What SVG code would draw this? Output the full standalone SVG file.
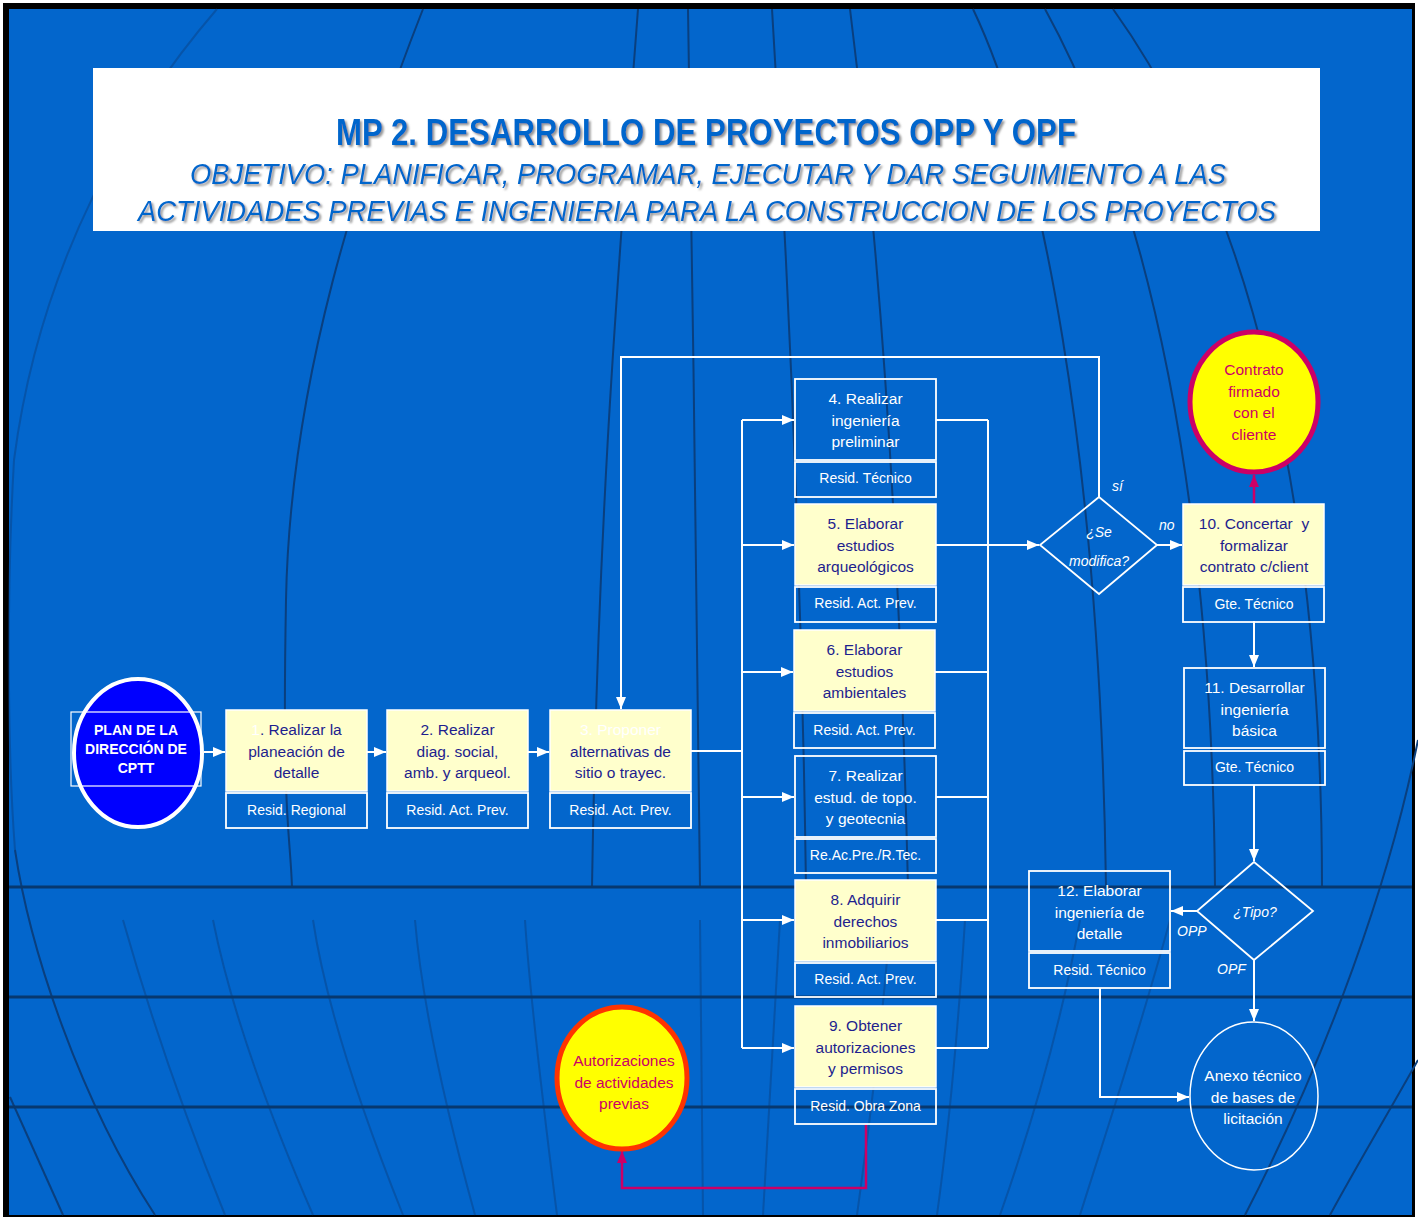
<svg xmlns="http://www.w3.org/2000/svg" width="1418" height="1219" viewBox="0 0 1418 1219">
  <defs>
    <marker id="arr" markerUnits="userSpaceOnUse" markerWidth="12" markerHeight="10" refX="12" refY="5" orient="auto">
      <path d="M0,0 L12,5 L0,10 z" fill="#ffffff"/>
    </marker>
    <marker id="arrM" markerUnits="userSpaceOnUse" markerWidth="12" markerHeight="10" refX="12" refY="5" orient="auto">
      <path d="M0,0 L12,5 L0,10 z" fill="#cc0066"/>
    </marker>
    <filter id="shadow" x="-5%" y="-20%" width="110%" height="140%">
      <feDropShadow dx="2" dy="2" stdDeviation="1" flood-color="#7a7a7a" flood-opacity="0.8"/>
    </filter>
    <style>
      .grid { fill: none; stroke: #0a3f7e; stroke-width: 2; }
      .faint { opacity: 0.45; }
      .lat { stroke: #07386f; stroke-width: 3; }
      .conn { fill: none; stroke: #ffffff; stroke-width: 2; }
      .connM { fill: none; stroke: #cc0066; stroke-width: 2.5; }
      .yel { fill: #ffffcc; stroke: #ffffff; stroke-width: 1.5; }
      .blu { fill: none; stroke: #ffffff; stroke-width: 1.8; }
      .t { font-family: "Liberation Sans", Arial, sans-serif; font-size: 15.5px; text-anchor: middle; }
      .dk { fill: #1e1e8e; }
      .wt { fill: #ffffff; }
      .role { font-family: "Liberation Sans", Arial, sans-serif; font-size: 14px; text-anchor: middle; fill: #ffffff; }
      .lbl { font-family: "Liberation Sans", Arial, sans-serif; font-size: 14px; font-style: italic; fill: #ffffff; }
      .mg { font-family: "Liberation Sans", Arial, sans-serif; font-size: 15.5px; text-anchor: middle; fill: #cc0066; }
    </style>
  </defs>

  <!-- frame and background -->
  <rect x="0" y="0" width="1418" height="1219" fill="#ffffff"/>
  <rect x="3" y="3" width="1412" height="1214" fill="#000000"/>
  <rect x="9" y="9" width="1403" height="1206" fill="#0366cc"/>

  <!-- globe grid -->
  <g id="grid">
    <path class="grid faint" d="M217,9 C130,110 40,260 14,460 C6,600 8,760 15,850"/>
    <path class="grid" d="M15,850 C30,950 80,1100 155,1215"/>
    <path class="grid" d="M423,9 C360,170 290,380 286,600 S290,830 292,887"/>
    <path class="grid" d="M638,9 C620,250 598,500 592,887"/>
    <path class="grid" d="M688,9 C692,300 698,600 700,887"/>
    <path class="grid" d="M772,9 C790,300 802,600 806,887"/>
    <path class="grid" d="M850,9 C880,250 900,550 908,887"/>
    <path class="grid" d="M973,9 C1040,150 1100,450 1106,887"/>
    <path class="grid" d="M1045,9 C1150,200 1212,500 1215,887"/>
    <path class="grid" d="M1113,9 C1250,200 1322,500 1322,887"/>
    <path class="grid" d="M1418,740 C1390,880 1330,1050 1245,1215"/>
    <path class="grid" d="M1418,1060 C1390,1110 1360,1160 1330,1215"/>
    <path class="grid" d="M10,1097 L63,1215"/>
    <path class="grid faint" d="M123,920 C140,980 170,1080 225,1215"/>
    <path class="grid faint" d="M213,920 C225,980 250,1070 313,1215"/>
    <path class="grid faint" d="M313,920 C322,980 345,1070 403,1215"/>
    <path class="grid faint" d="M415,920 C420,980 435,1070 475,1215"/>
    <path class="grid faint" d="M525,920 C530,1000 545,1120 557,1215"/>
    <path class="grid faint" d="M700,920 L703,1215"/>
    <path class="grid faint" d="M780,920 L763,1215"/>
    <path class="grid faint" d="M890,920 C885,1000 870,1120 857,1215"/>
    <path class="grid faint" d="M965,920 C960,1000 950,1120 937,1215"/>
    <path class="grid faint" d="M1080,920 C1060,1030 1030,1130 1000,1215"/>
    <path class="grid faint" d="M1170,920 C1140,1030 1110,1120 1080,1215"/>
    <line class="grid lat" x1="9" y1="887" x2="1412" y2="887"/>
    <line class="grid lat" x1="9" y1="997" x2="1412" y2="997"/>
    <line class="grid lat" x1="9" y1="1107" x2="1412" y2="1107"/>
  </g>

  <!-- title -->
  <g id="title">
    <rect x="93" y="68" width="1227" height="163" fill="#ffffff"/>
    <g filter="url(#shadow)" fill="#0066cc" font-family="Liberation Sans, Arial, sans-serif">
      <text x="336" y="145" font-size="36" font-weight="bold" textLength="740" lengthAdjust="spacingAndGlyphs">MP 2. DESARROLLO DE PROYECTOS OPP Y OPF</text>
      <text x="190" y="184" font-size="29" font-style="italic" textLength="1036" lengthAdjust="spacingAndGlyphs">OBJETIVO: PLANIFICAR, PROGRAMAR, EJECUTAR Y DAR SEGUIMIENTO A LAS</text>
      <text x="138" y="221" font-size="29" font-style="italic" textLength="1138" lengthAdjust="spacingAndGlyphs">ACTIVIDADES PREVIAS E INGENIERIA PARA LA CONSTRUCCION DE LOS PROYECTOS</text>
    </g>
  </g>

  <!-- connectors -->
  <g id="connectors">
    <path class="conn" d="M204,752 H225" marker-end="url(#arr)"/>
    <path class="conn" d="M367,752 H386" marker-end="url(#arr)"/>
    <path class="conn" d="M528,752 H549" marker-end="url(#arr)"/>
    <path class="conn" d="M691,751 H742"/>
    <path class="conn" d="M742,420 V1048"/>
    <path class="conn" d="M742,420 H794" marker-end="url(#arr)"/>
    <path class="conn" d="M742,545 H794" marker-end="url(#arr)"/>
    <path class="conn" d="M742,672 H793" marker-end="url(#arr)"/>
    <path class="conn" d="M742,797 H794" marker-end="url(#arr)"/>
    <path class="conn" d="M742,920 H794" marker-end="url(#arr)"/>
    <path class="conn" d="M742,1048 H794" marker-end="url(#arr)"/>
    <path class="conn" d="M936,420 H988 M936,545 H988 M935,672 H988 M936,797 H988 M936,920 H988 M936,1048 H988"/>
    <path class="conn" d="M988,420 V1048"/>
    <path class="conn" d="M988,545 H1039" marker-end="url(#arr)"/>
    <path class="conn" d="M1099,497 V357 H621 V709" marker-end="url(#arr)"/>
    <path class="conn" d="M1157,545 H1182" marker-end="url(#arr)"/>
    <path class="connM" d="M1254,504 V475" marker-end="url(#arrM)"/>
    <path class="conn" d="M1254,621 V667" marker-end="url(#arr)"/>
    <path class="conn" d="M1254,785 V861" marker-end="url(#arr)"/>
    <path class="conn" d="M1197,911 H1171" marker-end="url(#arr)"/>
    <path class="conn" d="M1254,960 V1021" marker-end="url(#arr)"/>
    <path class="conn" d="M1100,988 V1097 H1189" marker-end="url(#arr)"/>
    <path class="connM" d="M866,1124 V1188 H622 V1151" marker-end="url(#arrM)"/>
    <text class="lbl" x="1112" y="491" font-size="12">sí</text>
    <text class="lbl" x="1159" y="530" font-size="12">no</text>
    <text class="lbl" x="1177" y="936">OPP</text>
    <text class="lbl" x="1217" y="974">OPF</text>
  </g>

  <!-- start node -->
  <g id="plan">
    <ellipse cx="138" cy="753" rx="64" ry="74" fill="#0000ff" stroke="#ffffff" stroke-width="4"/>
    <rect x="71" y="712" width="130" height="74" fill="none" stroke="#ffffff" stroke-width="1.2"/>
    <g font-family="Liberation Sans, Arial, sans-serif" font-size="14" font-weight="bold" fill="#ffffff" text-anchor="middle">
      <text x="136" y="735">PLAN DE LA</text>
      <text x="136" y="754">DIRECCIÓN DE</text>
      <text x="136" y="773">CPTT</text>
    </g>
  </g>

  <g id="n1">
    <rect class="yel" x="226" y="710" width="141" height="81"/>
    <rect class="blu" x="226" y="793" width="141" height="35"/>
    <text class="t dk" x="296.5" y="735"><tspan class="wt">1</tspan>. Realizar la</text>
    <text class="t dk" x="296.5" y="757">planeación de</text>
    <text class="t dk" x="296.5" y="778">detalle</text>
    <text class="role" x="296.5" y="815">Resid. Regional</text>
  </g>

  <g id="n2">
    <rect class="yel" x="387" y="710" width="141" height="81"/>
    <rect class="blu" x="387" y="793" width="141" height="35"/>
    <text class="t dk" x="457.5" y="735">2. Realizar</text>
    <text class="t dk" x="457.5" y="757">diag. social,</text>
    <text class="t dk" x="457.5" y="778">amb. y arqueol.</text>
    <text class="role" x="457.5" y="815">Resid. Act. Prev.</text>
  </g>

  <g id="n3">
    <rect class="yel" x="550" y="710" width="141" height="81"/>
    <rect class="blu" x="550" y="793" width="141" height="35"/>
    <text class="t wt" x="620.5" y="735">3. Proponer</text>
    <text class="t dk" x="620.5" y="757">alternativas de</text>
    <text class="t dk" x="620.5" y="778">sitio o trayec.</text>
    <text class="role" x="620.5" y="815">Resid. Act. Prev.</text>
  </g>

  <g id="n4">
    <rect class="blu" x="795" y="379" width="141" height="81"/>
    <rect class="blu" x="795" y="462" width="141" height="35"/>
    <text class="t wt" x="865.5" y="404">4. Realizar</text>
    <text class="t wt" x="865.5" y="426">ingeniería</text>
    <text class="t wt" x="865.5" y="447">preliminar</text>
    <text class="role" x="865.5" y="483">Resid. Técnico</text>
  </g>

  <g id="n5">
    <rect class="yel" x="795" y="504" width="141" height="81"/>
    <rect class="blu" x="795" y="587" width="141" height="35"/>
    <text class="t dk" x="865.5" y="529">5. Elaborar</text>
    <text class="t dk" x="865.5" y="551">estudios</text>
    <text class="t dk" x="865.5" y="572">arqueológicos</text>
    <text class="role" x="865.5" y="608">Resid. Act. Prev.</text>
  </g>

  <g id="n6">
    <rect class="yel" x="794" y="630" width="141" height="81"/>
    <rect class="blu" x="794" y="713" width="141" height="35"/>
    <text class="t dk" x="864.5" y="655">6. Elaborar</text>
    <text class="t dk" x="864.5" y="677">estudios</text>
    <text class="t dk" x="864.5" y="698">ambientales</text>
    <text class="role" x="864.5" y="735">Resid. Act. Prev.</text>
  </g>

  <g id="n7">
    <rect class="blu" x="795" y="756" width="141" height="81"/>
    <rect class="blu" x="795" y="839" width="141" height="34"/>
    <text class="t wt" x="865.5" y="781">7. Realizar</text>
    <text class="t wt" x="865.5" y="803">estud. de topo.</text>
    <text class="t wt" x="865.5" y="824">y geotecnia</text>
    <text class="role" x="865.5" y="860">Re.Ac.Pre./R.Tec.</text>
  </g>

  <g id="n8">
    <rect class="yel" x="795" y="880" width="141" height="81"/>
    <rect class="blu" x="795" y="963" width="141" height="34"/>
    <text class="t dk" x="865.5" y="905">8. Adquirir</text>
    <text class="t dk" x="865.5" y="927">derechos</text>
    <text class="t dk" x="865.5" y="948">inmobiliarios</text>
    <text class="role" x="865.5" y="984">Resid. Act. Prev.</text>
  </g>

  <g id="n9">
    <rect class="yel" x="795" y="1006" width="141" height="81"/>
    <rect class="blu" x="795" y="1089" width="141" height="35"/>
    <text class="t dk" x="865.5" y="1031">9. Obtener</text>
    <text class="t dk" x="865.5" y="1053">autorizaciones</text>
    <text class="t dk" x="865.5" y="1074">y permisos</text>
    <text class="role" x="865.5" y="1111">Resid. Obra Zona</text>
  </g>

  <g id="d1">
    <polygon points="1099,497 1157,545 1099,594 1040,545" fill="none" stroke="#ffffff" stroke-width="1.8"/>
    <text class="lbl" x="1099" y="537" text-anchor="middle">¿Se</text>
    <text class="lbl" x="1099" y="566" text-anchor="middle">modifica?</text>
  </g>

  <g id="n10">
    <rect class="yel" x="1183" y="504" width="141" height="81"/>
    <rect class="blu" x="1183" y="587" width="141" height="35"/>
    <text class="t dk" x="1254" y="529" xml:space="preserve">10. Concertar  y</text>
    <text class="t dk" x="1254" y="551">formalizar</text>
    <text class="t dk" x="1254" y="572">contrato c/client</text>
    <text class="role" x="1254" y="609">Gte. Técnico</text>
  </g>

  <g id="contrato">
    <ellipse cx="1254" cy="402" rx="64" ry="70" fill="#ffff00" stroke="#cc0066" stroke-width="5"/>
    <text class="mg" x="1254" y="375">Contrato</text>
    <text class="mg" x="1254" y="397">firmado</text>
    <text class="mg" x="1254" y="418">con el</text>
    <text class="mg" x="1254" y="440">cliente</text>
  </g>

  <g id="n11">
    <rect class="blu" x="1184" y="668" width="141" height="80"/>
    <rect class="blu" x="1184" y="751" width="141" height="34"/>
    <text class="t wt" x="1254.5" y="693">11. Desarrollar</text>
    <text class="t wt" x="1254.5" y="715">ingeniería</text>
    <text class="t wt" x="1254.5" y="736">básica</text>
    <text class="role" x="1254.5" y="772">Gte. Técnico</text>
  </g>

  <g id="d2">
    <polygon points="1254,862 1313,911 1254,960 1197,911" fill="none" stroke="#ffffff" stroke-width="1.8"/>
    <text class="lbl" x="1255" y="917" text-anchor="middle">¿Tipo?</text>
  </g>

  <g id="n12">
    <rect class="blu" x="1029" y="871" width="141" height="80"/>
    <rect class="blu" x="1029" y="953" width="141" height="35"/>
    <text class="t wt" x="1099.5" y="896">12. Elaborar</text>
    <text class="t wt" x="1099.5" y="918">ingeniería de</text>
    <text class="t wt" x="1099.5" y="939">detalle</text>
    <text class="role" x="1099.5" y="975">Resid. Técnico</text>
  </g>

  <g id="anexo">
    <ellipse cx="1254" cy="1096" rx="64" ry="74" fill="none" stroke="#ffffff" stroke-width="1.5"/>
    <text class="t wt" x="1253" y="1081">Anexo técnico</text>
    <text class="t wt" x="1253" y="1103">de bases de</text>
    <text class="t wt" x="1253" y="1124">licitación</text>
  </g>

  <g id="autorizaciones">
    <ellipse cx="622" cy="1078" rx="65" ry="71" fill="#ffff00" stroke="#ff3300" stroke-width="5"/>
    <text class="mg" x="624" y="1066">Autorizaciones</text>
    <text class="mg" x="624" y="1088">de actividades</text>
    <text class="mg" x="624" y="1109">previas</text>
  </g>
</svg>
